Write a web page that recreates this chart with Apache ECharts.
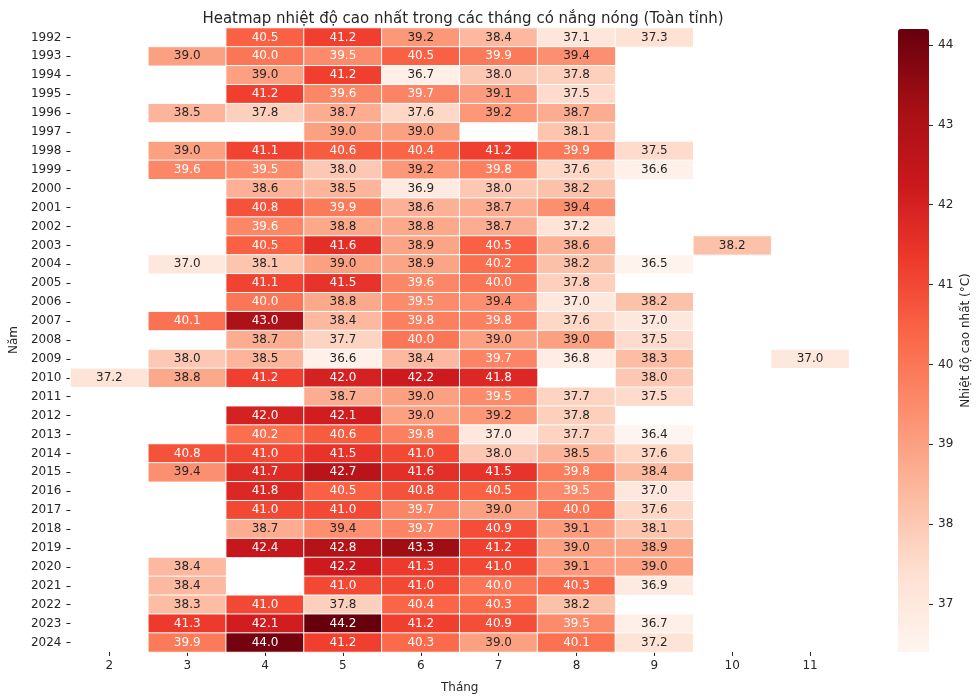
<!DOCTYPE html>
<html>
<head>
<meta charset="utf-8">
<script src="https://cdn.jsdelivr.net/npm/echarts@6/dist/echarts.min.js"></script>
<style>
  html, body { margin: 0; padding: 0; background: #fff; }
  #chart { width: 980px; height: 700px; }
</style>
</head>
<body>
<div id="chart"></div>
<script>
// months shown on the x axis
const months = ['2', '3', '4', '5', '6', '7', '8', '9', '10', '11'];
const years = [
  '1992', '1993', '1994', '1995', '1996', '1997', '1998', '1999', '2000', '2001', '2002',
  '2003', '2004', '2005', '2006', '2007', '2008', '2009', '2010', '2011', '2012', '2013',
  '2014', '2015', '2016', '2017', '2018', '2019', '2020', '2021', '2022', '2023', '2024'
];
// max temperature per year, one value per month (2..11), null = no data
const temps = [
  [null, null, 40.5, 41.2, 39.2, 38.4, 37.1, 37.3, null, null],
  [null, 39.0, 40.0, 39.5, 40.5, 39.9, 39.4, null, null, null],
  [null, null, 39.0, 41.2, 36.7, 38.0, 37.8, null, null, null],
  [null, null, 41.2, 39.6, 39.7, 39.1, 37.5, null, null, null],
  [null, 38.5, 37.8, 38.7, 37.6, 39.2, 38.7, null, null, null],
  [null, null, null, 39.0, 39.0, null, 38.1, null, null, null],
  [null, 39.0, 41.1, 40.6, 40.4, 41.2, 39.9, 37.5, null, null],
  [null, 39.6, 39.5, 38.0, 39.2, 39.8, 37.6, 36.6, null, null],
  [null, null, 38.6, 38.5, 36.9, 38.0, 38.2, null, null, null],
  [null, null, 40.8, 39.9, 38.6, 38.7, 39.4, null, null, null],
  [null, null, 39.6, 38.8, 38.8, 38.7, 37.2, null, null, null],
  [null, null, 40.5, 41.6, 38.9, 40.5, 38.6, null, 38.2, null],
  [null, 37.0, 38.1, 39.0, 38.9, 40.2, 38.2, 36.5, null, null],
  [null, null, 41.1, 41.5, 39.6, 40.0, 37.8, null, null, null],
  [null, null, 40.0, 38.8, 39.5, 39.4, 37.0, 38.2, null, null],
  [null, 40.1, 43.0, 38.4, 39.8, 39.8, 37.6, 37.0, null, null],
  [null, null, 38.7, 37.7, 40.0, 39.0, 39.0, 37.5, null, null],
  [null, 38.0, 38.5, 36.6, 38.4, 39.7, 36.8, 38.3, null, 37.0],
  [37.2, 38.8, 41.2, 42.0, 42.2, 41.8, null, 38.0, null, null],
  [null, null, null, 38.7, 39.0, 39.5, 37.7, 37.5, null, null],
  [null, null, 42.0, 42.1, 39.0, 39.2, 37.8, null, null, null],
  [null, null, 40.2, 40.6, 39.8, 37.0, 37.7, 36.4, null, null],
  [null, 40.8, 41.0, 41.5, 41.0, 38.0, 38.5, 37.6, null, null],
  [null, 39.4, 41.7, 42.7, 41.6, 41.5, 39.8, 38.4, null, null],
  [null, null, 41.8, 40.5, 40.8, 40.5, 39.5, 37.0, null, null],
  [null, null, 41.0, 41.0, 39.7, 39.0, 40.0, 37.6, null, null],
  [null, null, 38.7, 39.4, 39.7, 40.9, 39.1, 38.1, null, null],
  [null, null, 42.4, 42.8, 43.3, 41.2, 39.0, 38.9, null, null],
  [null, 38.4, null, 42.2, 41.3, 41.0, 39.1, 39.0, null, null],
  [null, 38.4, null, 41.0, 41.0, 40.0, 40.3, 36.9, null, null],
  [null, 38.3, 41.0, 37.8, 40.4, 40.3, 38.2, null, null, null],
  [null, 41.3, 42.1, 44.2, 41.2, 40.9, 39.5, 36.7, null, null],
  [null, 39.9, 44.0, 41.2, 40.3, 39.0, 40.1, 37.2, null, null]
];
const colorbarTicks = [37, 38, 39, 40, 41, 42, 43, 44];
const vMin = 36.4;
const vMax = 44.2;

// matplotlib "Reds"
const reds = ['#fff5f0', '#fee0d2', '#fcbba1', '#fc9272', '#fb6a4a', '#ef3b2c', '#cb181d', '#a50f15', '#67000d'];

const FONT = 'DejaVu Sans';
const TXT = '#262626';

const cells = [];
temps.forEach((row, yi) => {
  row.forEach((v, xi) => {
    if (v === null) return;
    cells.push({
      value: [xi, yi, v],
      label: { color: v >= 39.45 ? '#ffffff' : TXT }
    });
  });
});

const chart = echarts.init(document.getElementById('chart'));

chart.setOption({
  animation: false,
  title: {
    text: 'Heatmap nhiệt độ cao nhất trong các tháng có nắng nóng (Toàn tỉnh)',
    left: 458,
    textAlign: 'center',
    top: 7,
    textStyle: { fontFamily: FONT, fontSize: 15, fontWeight: 'normal', color: TXT }
  },
  grid: [
    { left: 66, right: 131, top: 28, bottom: 48 },
    { left: 898, width: 31, top: 29, height: 623 }
  ],
  xAxis: [
    {
      type: 'category',
      data: months,
      name: 'Tháng',
      nameLocation: 'middle',
      nameGap: 30,
      nameTextStyle: { fontFamily: FONT, fontSize: 12, color: TXT },
      axisLine: { show: false },
      axisTick: { show: true, alignWithLabel: true, length: 4, lineStyle: { color: TXT } },
      axisLabel: { fontFamily: FONT, fontSize: 12, color: TXT, margin: 8 },
      splitLine: { show: false }
    },
    {
      gridIndex: 1,
      type: 'category',
      data: [''],
      show: false
    }
  ],
  yAxis: [
    {
      type: 'category',
      data: years,
      inverse: true,
      name: 'Năm',
      nameLocation: 'middle',
      nameGap: 47,
      nameRotate: 90,
      nameTextStyle: { fontFamily: FONT, fontSize: 12, color: TXT },
      axisLine: { show: false },
      axisTick: { show: true, alignWithLabel: true, length: 4, lineStyle: { color: TXT } },
      axisLabel: { fontFamily: FONT, fontSize: 12, color: TXT, margin: 9 },
      splitLine: { show: false }
    },
    {
      gridIndex: 1,
      type: 'value',
      position: 'right',
      min: vMin,
      max: vMax,
      name: 'Nhiệt độ cao nhất (°C)',
      nameLocation: 'middle',
      nameGap: 31,
      nameRotate: 90,
      nameTextStyle: { fontFamily: FONT, fontSize: 12, color: TXT },
      axisLine: { show: false },
      axisTick: { show: true, length: 4, customValues: colorbarTicks, lineStyle: { color: TXT } },
      axisLabel: { fontFamily: FONT, fontSize: 12, color: TXT, margin: 9, customValues: colorbarTicks },
      splitLine: { show: false }
    }
  ],
  visualMap: {
    type: 'continuous',
    seriesIndex: 0,
    min: vMin,
    max: vMax,
    calculable: false,
    orient: 'vertical',
    left: 898,
    top: 29,
    padding: 0,
    itemWidth: 31,
    itemHeight: 623,
    text: null,
    inRange: { color: reds },
    hoverLink: false
  },
  series: [
    {
      type: 'heatmap',
      data: cells,
      itemStyle: { borderColor: '#ffffff', borderWidth: 1 },
      label: {
        show: true,
        fontFamily: FONT,
        fontSize: 12,
        formatter: (p) => p.value[2].toFixed(1)
      },
      emphasis: { disabled: true }
    }
  ]
});
</script>
</body>
</html>
